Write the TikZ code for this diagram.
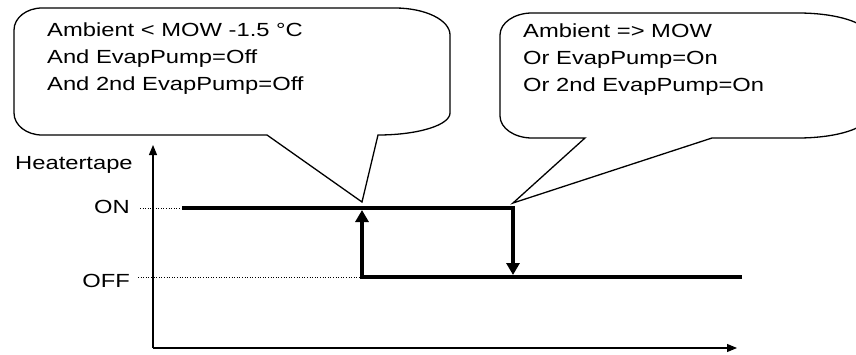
\documentclass[tikz,border=0pt]{standalone}
\usepackage{fontspec}
\setmainfont{Liberation Sans}
\usetikzlibrary{arrows.meta}
\newcommand\hstretch[1]{\scalebox{1.25}[1]{#1}}
\begin{document}
\begin{tikzpicture}[x=1pt,y=1pt,
  lbl/.style={inner sep=0pt, font=\fontsize{19}{27}\selectfont},
  bubble/.style={line width=1.3pt, line join=miter},
  axis/.style={line width=1.1pt, -{Triangle[length=10pt,width=8pt]}},
  jump/.style={line width=4pt, line join=miter, -{Triangle[length=12pt,width=13pt]}},
  guide/.style={line width=0.9pt, dash pattern=on 1pt off 1.6pt}]
\useasboundingbox (0,0) rectangle (856,354);
\clip (0,0) rectangle (856,354);

% coordinates
\coordinate (tipL) at (362,152);
\coordinate (tipR) at (513,151);
\coordinate (O) at (153,6);
\coordinate (ytop) at (153,209);
\coordinate (xend) at (737,6);
\coordinate (onstart) at (182,146);
\coordinate (oncorner) at (513,146);
\coordinate (fallend) at (513,79);
\coordinate (offend) at (742,77);
\coordinate (risecorner) at (362,77);
\coordinate (riseend) at (362,144);
\coordinate (ondot) at (140,146);
\coordinate (offdot) at (138,77);

% left callout
\draw[bubble] (14,324) -- (14,241)
  arc[start angle=180,end angle=270,x radius=28,y radius=22]
  -- (267,219) -- (tipL) -- (378,219)
  arc[start angle=270,end angle=360,x radius=72,y radius=22]
  -- (450,319)
  arc[start angle=0,end angle=90,x radius=55,y radius=27]
  -- (42,346)
  arc[start angle=90,end angle=180,x radius=28,y radius=22]
  -- cycle;

% right callout
\draw[bubble] (500,319) -- (500,238)
  arc[start angle=180,end angle=270,x radius=32,y radius=22]
  -- (585,216) -- (tipR) -- (712,216) -- (798,216)
  arc[start angle=270,end angle=360,x radius=70,y radius=22]
  -- (868,319)
  arc[start angle=0,end angle=90,x radius=70,y radius=22]
  -- (532,341)
  arc[start angle=90,end angle=180,x radius=32,y radius=22]
  -- cycle;

\node[lbl, anchor=base west] (condoff) at (47,317.5)
  {\hstretch{\begin{tabular}[t]{@{}l@{}}Ambient < MOW -1.5 °C\\And EvapPump=Off\\And 2nd EvapPump=Off\end{tabular}}};
\node[lbl, anchor=base west] (condon) at (523,316)
  {\hstretch{\begin{tabular}[t]{@{}l@{}}Ambient => MOW\\Or EvapPump=On\\Or 2nd EvapPump=On\end{tabular}}};

% axes
\draw[axis] (O) -- (ytop);
\draw[axis] (O) -- (xend);
\node[lbl, anchor=base west] (ylabel) at (15,185) {\hstretch{Heatertape}};
\node[lbl, anchor=base east] (onlbl) at (130,140.5) {\hstretch{ON}};
\node[lbl, anchor=base east] (offlbl) at (130,66.5) {\hstretch{OFF}};

% guides
\draw[guide] (ondot) -- (onstart);
\draw[guide] (offdot) -- (risecorner);

% levels and transitions
\draw[jump] (onstart) -- (oncorner) -- (fallend);
\draw[jump] (offend) -- (risecorner) -- (riseend);
\end{tikzpicture}
\end{document}
